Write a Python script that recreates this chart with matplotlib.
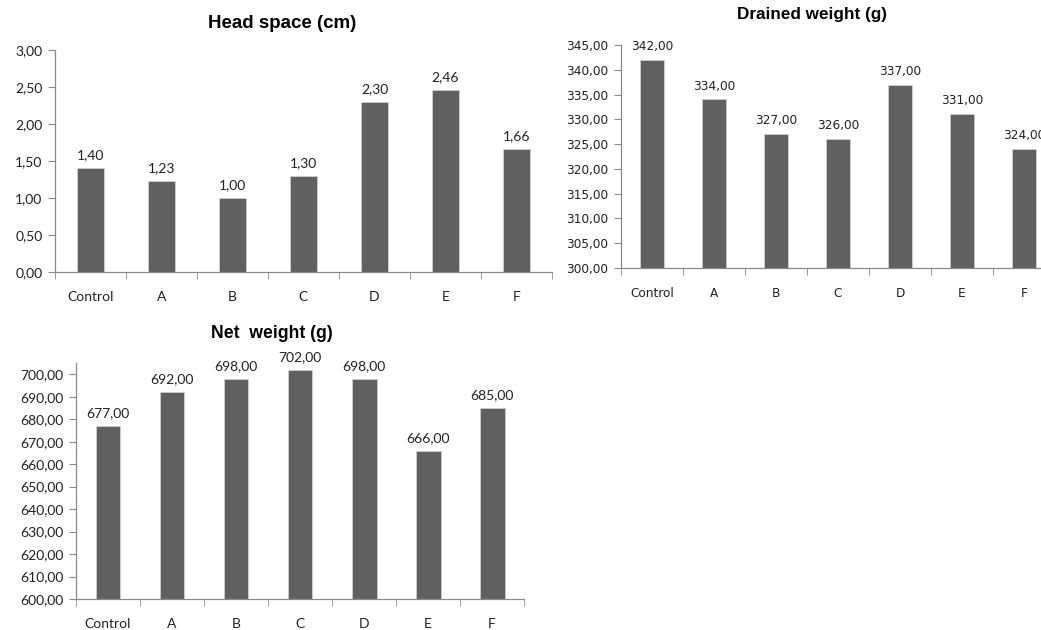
import matplotlib
matplotlib.use('Agg')
import matplotlib.pyplot as plt
from matplotlib.ticker import FixedLocator

# data
categories = ['Control', 'A', 'B', 'C', 'D', 'E', 'F']
head_space = [1.40, 1.23, 1.00, 1.30, 2.30, 2.46, 1.66]
drained_weight = [342, 334, 327, 326, 337, 331, 324]
net_weight = [677, 692, 698, 702, 698, 666, 685]

bar_color = '#606060'
axis_color = '#8a8a8a'


def fmt(v):
    # decimal comma, two places
    return ('%.2f' % v).replace('.', ',')


def draw(ax, values, ylim, yticks, fsize, family):
    x = range(len(categories))
    ax.bar(x, values, width=0.39, color=bar_color, edgecolor='#d0d0d0',
           linewidth=0.6)
    ax.set_xlim(-0.5, len(categories) - 0.5)
    ax.set_ylim(*ylim)
    ax.set_yticks(yticks)
    ax.set_yticklabels([fmt(t) for t in yticks], fontsize=fsize,
                       family=family, color='#222222')
    ax.set_xticks(list(x))
    ax.set_xticklabels(categories, fontsize=fsize, family=family,
                       color='#222222')
    ax.xaxis.set_minor_locator(FixedLocator([i - 0.5 for i in range(len(categories) + 1)]))
    ax.tick_params(axis='x', which='major', length=0, pad=14)
    ax.tick_params(axis='x', which='minor', length=5, color=axis_color)
    ax.tick_params(axis='y', length=5, color=axis_color, pad=4)
    for s in ['top', 'right']:
        ax.spines[s].set_visible(False)
    for s in ['left', 'bottom']:
        ax.spines[s].set_color(axis_color)
        ax.spines[s].set_linewidth(0.9)
    for i, v in enumerate(values):
        ax.annotate(fmt(v), (i, v), xytext=(0, 5), textcoords='offset points',
                    ha='center', va='bottom', fontsize=fsize, family=family,
                    color='#222222', annotation_clip=False)


fig = plt.figure(figsize=(10.41, 6.30), dpi=100)

# head space
ax1 = fig.add_axes([0.0528, 0.5683, 0.4774, 0.3524])
draw(ax1, head_space, (0, 3.0), [0, 0.5, 1.0, 1.5, 2.0, 2.5, 3.0], 10, 'Lato')
fig.text(0.271, 1 - 23 / 630, 'Head space (cm)', ha='center', va='center',
         fontsize=13.5, fontweight='bold', family='Liberation Sans')

# drained weight
ax2 = fig.add_axes([0.5965, 0.5746, 0.4169, 0.354])
draw(ax2, drained_weight, (300, 345), list(range(300, 346, 5)), 8.7, 'DejaVu Sans')
fig.text(812 / 1041, 1 - 15 / 630, 'Drained weight (g)', ha='center', va='center',
         fontsize=12.3, fontweight='bold', family='Liberation Sans')

# net weight
ax3 = fig.add_axes([0.073, 0.0492, 0.4304, 0.3746])
draw(ax3, net_weight, (600, 705), list(range(600, 701, 10)), 10, 'Lato')
fig.text(272 / 1041, 1 - 333 / 630, 'Net  weight (g)', ha='center', va='center',
         fontsize=12.7, fontweight='bold', family='Liberation Sans')

fig.savefig('out.png', dpi=100)
